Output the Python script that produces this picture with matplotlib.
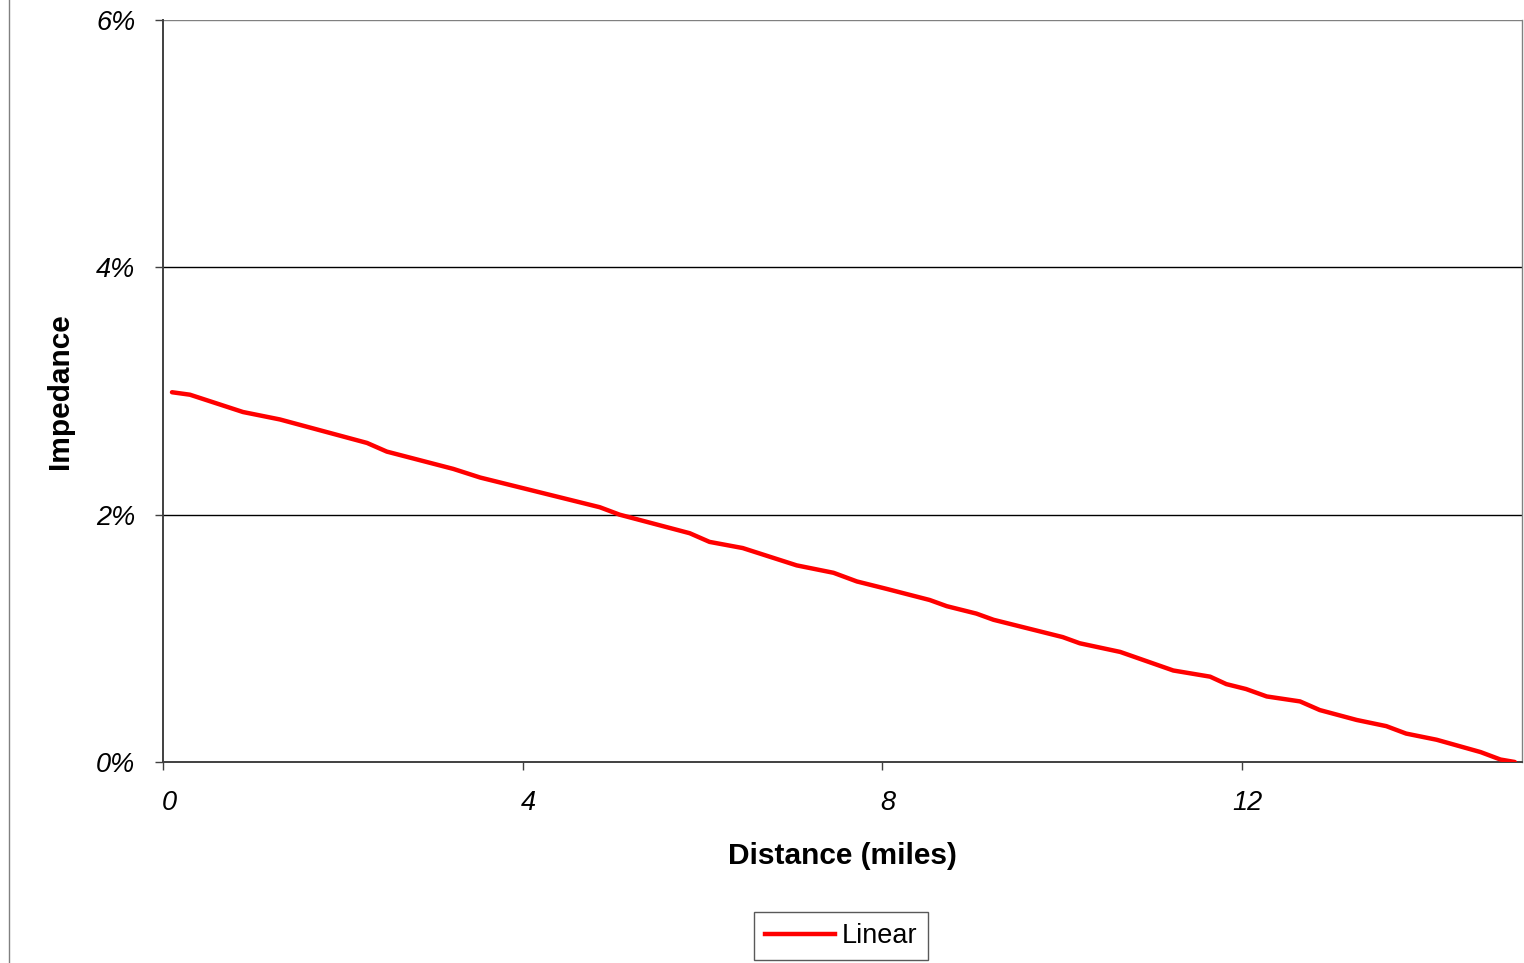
import matplotlib
matplotlib.use("Agg")
import matplotlib.pyplot as plt
import matplotlib.transforms as mtransforms
from matplotlib.lines import Line2D
from matplotlib.ticker import FuncFormatter

# values
distance_miles = [0.10, 0.30, 0.89, 1.30, 2.27, 2.49, 3.23, 3.53, 4.86, 5.08,
                  5.86, 6.08, 6.45, 7.05, 7.46, 7.72, 8.05, 8.53, 8.72, 9.05,
                  9.24, 10.01, 10.20, 10.65, 11.24, 11.65, 11.83, 12.05, 12.28,
                  12.65, 12.87, 13.28, 13.61, 13.83, 14.17, 14.66, 14.88, 15.04]
impedance_pct = [2.99, 2.97, 2.83, 2.77, 2.58, 2.51, 2.37, 2.30, 2.06, 2.00,
                 1.85, 1.78, 1.73, 1.59, 1.53, 1.46, 1.40, 1.31, 1.26, 1.20,
                 1.15, 1.01, 0.96, 0.89, 0.74, 0.69, 0.63, 0.59, 0.53,
                 0.49, 0.42, 0.34, 0.29, 0.23, 0.18, 0.08, 0.02, 0.00]
series_name = "Linear"
x_ticks = [0, 4, 8, 12]
y_ticks = [0, 2, 4, 6]

plt.rcParams['font.family'] = ['Liberation Sans', 'DejaVu Sans']

fig = plt.figure(figsize=(15.24, 9.63), dpi=100)
ax = fig.add_axes([163 / 1524, 201 / 963, 1359 / 1524, 742 / 963])

ax.plot(distance_miles, impedance_pct, color='#ff0000', lw=3.2,
        solid_capstyle='round', solid_joinstyle='round', zorder=3)

ax.set_xlim(0, 15.12)
ax.set_ylim(0, 6)
ax.set_xticks(x_ticks)
ax.set_yticks(y_ticks)
ax.yaxis.set_major_formatter(FuncFormatter(lambda v, p: f"{v:.0f}%"))

for v in y_ticks[1:]:
    ax.axhline(v, color='#000000' if v < 6 else '#808080', lw=1.0, zorder=1)

for side in ['left', 'bottom']:
    ax.spines[side].set_color('#404040')
    ax.spines[side].set_linewidth(1.4)
ax.spines['top'].set_visible(False)
ax.spines['right'].set_color('#808080')
ax.spines['right'].set_linewidth(1.0)

ax.tick_params(axis='both', direction='out', length=6, width=1.0, colors='#404040',
               labelcolor='black', labelsize=19.5)
ax.tick_params(axis='y', pad=14)
ax.tick_params(axis='x', pad=14)
for lab in ax.get_xticklabels() + ax.get_yticklabels():
    lab.set_fontstyle('italic')
shift = mtransforms.ScaledTranslation(6 / 100, 0, fig.dpi_scale_trans)
for lab in ax.get_xticklabels():
    lab.set_transform(lab.get_transform() + shift)

ax.set_xlabel("Distance (miles)", fontsize=21.5, fontweight='bold', labelpad=19)
ax.set_ylabel("Impedance", fontsize=21.5, fontweight='bold', labelpad=16)

handle = Line2D([], [], color='#ff0000', lw=3.2)
leg = fig.legend([handle], [series_name], loc='center', bbox_to_anchor=(841 / 1524, 1 - 936 / 963),
                 fontsize=19.5, frameon=True, fancybox=False, handlelength=2.6,
                 handletextpad=0.25, borderpad=0.4, borderaxespad=0)
leg.get_frame().set_edgecolor('#303030')
leg.get_frame().set_linewidth(1.0)

# chart area border on the left
fig.add_artist(Line2D([9 / 1524, 9 / 1524], [0, 1], color='#808080', lw=1.0,
                      transform=fig.transFigure))

fig.savefig("out.png", dpi=100, facecolor='white')
